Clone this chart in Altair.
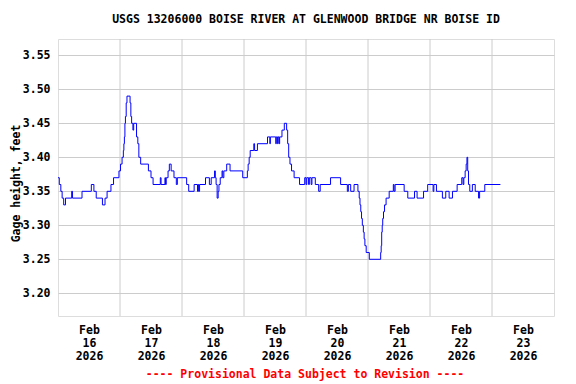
import altair as alt
import pandas as pd

TITLE = "USGS 13206000 BOISE RIVER AT GLENWOOD BRIDGE NR BOISE ID"
FOOTER = "---- Provisional Data Subject to Revision ----"
Y_TITLE = "Gage height, feet"

# hours since 2026-02-16 00:00 at which the reading changes, and the new reading (feet)
hours = [0.0, 0.5, 1.1, 1.6, 2.2, 2.9, 5.3, 5.6, 9.3, 12.9, 13.9, 14.8, 17.2, 18.2, 19.0,
         20.5, 21.5, 23.6, 24.2, 24.8, 25.3, 25.5, 25.7, 25.9, 26.1, 26.4, 26.7, 27.9,
         28.2, 28.5, 29.0, 29.3, 30.4, 30.9, 31.3, 32.0, 35.0, 36.0, 36.8, 39.6, 39.9,
         41.4, 41.6, 41.9, 42.6, 43.1, 43.8, 44.9, 45.8, 46.2, 49.8, 50.6, 52.7, 54.0,
         54.3, 54.5, 54.8, 57.1, 58.6, 59.3, 60.6, 60.9, 61.2, 61.6, 62.0, 62.3, 62.8,
         63.5, 63.8, 64.2, 65.3, 66.6, 71.5, 73.3, 73.6, 74.0, 74.4, 75.8, 76.1, 77.2,
         81.1, 82.0, 82.2, 84.3, 84.5, 85.0, 85.2, 85.6, 85.8, 86.7, 87.6, 88.5, 88.9,
         89.3, 89.8, 90.4, 91.4, 93.5, 95.5, 96.0, 96.3, 97.0, 97.3, 98.0, 98.3, 99.6,
         100.9, 101.5, 105.5, 109.4, 112.0, 112.4, 113.3, 114.6, 116.1, 116.6, 116.9,
         117.2, 117.5, 117.8, 118.2, 118.5, 118.8, 119.3, 120.5, 124.9, 125.1, 125.3,
         125.5, 125.7, 126.0, 126.4, 127.0, 128.2, 129.8, 130.1, 130.5, 134.0, 135.4,
         138.0, 139.0, 141.5, 143.1, 145.2, 145.5, 146.5, 148.8, 150.1, 151.4, 152.7,
         154.5, 156.3, 156.8, 157.1, 157.6, 158.0, 158.3, 158.6, 158.9, 159.4, 160.4,
         161.5, 162.8, 163.2, 165.2, 171.25]
gage = [3.37, 3.36, 3.35, 3.34, 3.33, 3.34, 3.35, 3.34, 3.35, 3.36, 3.35, 3.34, 3.33, 3.34, 3.35,
        3.36, 3.37, 3.38, 3.39, 3.40, 3.41, 3.42, 3.43, 3.45, 3.46, 3.48, 3.49, 3.48,
        3.46, 3.45, 3.44, 3.45, 3.43, 3.42, 3.40, 3.39, 3.38, 3.37, 3.36, 3.37, 3.36,
        3.37, 3.36, 3.37, 3.38, 3.39, 3.38, 3.37, 3.36, 3.37, 3.36, 3.35, 3.36, 3.35,
        3.36, 3.35, 3.36, 3.37, 3.36, 3.37, 3.38, 3.37, 3.36, 3.34, 3.35, 3.36, 3.37,
        3.38, 3.37, 3.38, 3.39, 3.38, 3.37, 3.38, 3.39, 3.40, 3.41, 3.42, 3.41, 3.42,
        3.43, 3.42, 3.43, 3.42, 3.43, 3.42, 3.43, 3.42, 3.43, 3.44, 3.45, 3.44, 3.42,
        3.40, 3.39, 3.38, 3.37, 3.36, 3.37, 3.36, 3.37, 3.36, 3.37, 3.36, 3.37, 3.36,
        3.35, 3.36, 3.37, 3.36, 3.35, 3.36, 3.35, 3.36, 3.35, 3.34, 3.33,
        3.32, 3.31, 3.30, 3.29, 3.28, 3.27, 3.26, 3.25, 3.26, 3.27, 3.29,
        3.30, 3.31, 3.32, 3.33, 3.34, 3.35, 3.36, 3.35, 3.36, 3.35, 3.34,
        3.35, 3.34, 3.35, 3.36, 3.35, 3.36, 3.35, 3.34, 3.35, 3.34, 3.35,
        3.36, 3.37, 3.36, 3.37, 3.38, 3.39, 3.40, 3.38, 3.36, 3.35, 3.36,
        3.35, 3.34, 3.35, 3.36, 3.36]

day_labels = ["16", "17", "18", "19", "20", "21", "22", "23"]
label_hours = [12, 36, 60, 84, 108, 132, 156, 180]
grid_hours = [24, 48, 72, 96, 120, 144, 168]
y_ticks = [3.20, 3.25, 3.30, 3.35, 3.40, 3.45, 3.50, 3.55]

W, H = 496, 277
FONT = "DejaVu Sans Mono"
FS = 11.5

df = pd.DataFrame({"h": hours, "v": gage})
grid_df = pd.DataFrame({"h": grid_hours})

label_expr = ("['Feb', " + str(day_labels) + "[round((datum.value - 12) / 24)], '2026']")

xscale = alt.Scale(domain=[0, 192], nice=False, zero=False)
yscale = alt.Scale(domain=[3.1666, 3.574], nice=False, zero=False)

vgrid = alt.Chart(grid_df).mark_rule(color="#cccccc", strokeWidth=1).encode(
    x=alt.X("h:Q", scale=xscale)
)

line = alt.Chart(df).mark_line(color="#0000ff", strokeWidth=1, interpolate="step-after").encode(
    x=alt.X("h:Q", scale=xscale,
            axis=alt.Axis(values=label_hours, labelExpr=label_expr, grid=False, ticks=False,
                          domain=False, title=None, labelFont=FONT, labelFontSize=FS,
                          labelFontWeight="bold", labelColor="black", labelLineHeight=13,
                          labelPadding=8, labelFlush=False, labelOverlap=False)),
    y=alt.Y("v:Q", scale=yscale,
            axis=alt.Axis(values=y_ticks, format=".2f", grid=True, gridColor="#cccccc",
                          ticks=False, domain=False, labelFont=FONT, labelFontSize=FS,
                          labelFontWeight="bold", labelColor="black", labelPadding=8,
                          title=Y_TITLE, titleFont=FONT, titleFontSize=FS,
                          titleFontWeight="bold", titleColor="black",
                          titleX=-42, titleY=144, titleBaseline="middle", titleAlign="center")),
)

title_txt = alt.Chart(alt.Data(values=[{"t": TITLE}])).mark_text(
    font=FONT, fontSize=FS, fontWeight="bold", color="black", baseline="middle", align="center"
).encode(text="t:N", x=alt.value(W / 2), y=alt.value(-19))

foot_txt = alt.Chart(alt.Data(values=[{"t": FOOTER}])).mark_text(
    font=FONT, fontSize=FS, fontWeight="bold", color="#ff0000", baseline="middle", align="center"
).encode(text="t:N", x=alt.value(W / 2 - 1), y=alt.value(H + 59))

chart = alt.layer(vgrid, line, title_txt, foot_txt).properties(
    width=W, height=H,
    autosize=alt.AutoSizeParams(type="none"),
    padding={"left": 50, "top": 31, "right": 12, "bottom": 67},
).configure_view(stroke="black", strokeWidth=1).configure(background="white")

chart.save("out.html", embed_options={"renderer": "svg", "actions": False})
